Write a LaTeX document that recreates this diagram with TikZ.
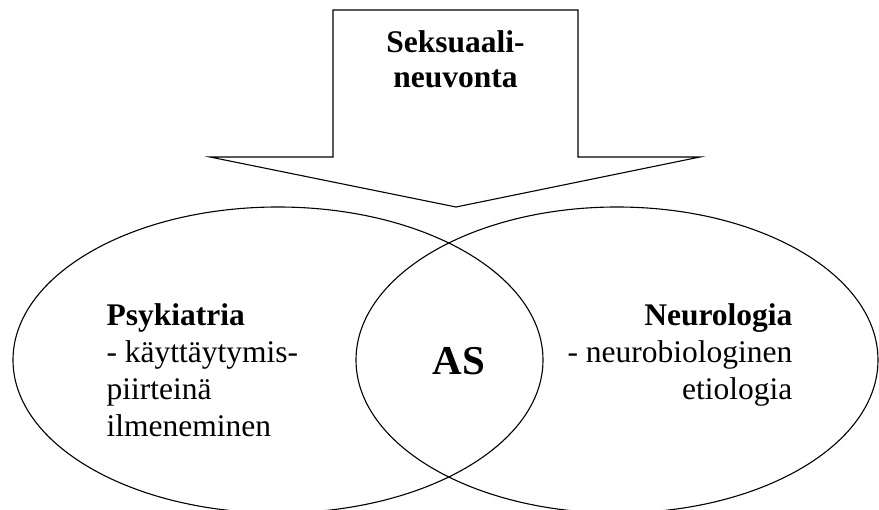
\documentclass[tikz,border=0pt]{standalone}
\usepackage{fontspec}
\setmainfont{Liberation Serif}
\usetikzlibrary{positioning}
\usetikzlibrary{shapes.geometric}

\begin{document}
\begin{tikzpicture}[x=1pt,y=-1pt,line width=1.1pt,
  oval/.style={draw,ellipse,inner sep=0pt,minimum height=306pt},
  txt/.style={inner sep=0pt,font=\fontsize{31.5}{37}\selectfont}]
\useasboundingbox (0,0) rectangle (879,510);
\node[oval,minimum width=530pt] (psy) at (278,360) {};
\node[oval,minimum width=522pt] (neu) at (617,360) {};
% block arrow
\draw[line join=miter] (333,157) -- (333,10) -- (578,10) -- (578,157)
  -- (700,157) -- (456,207) -- (210,157) -- cycle;
\node[txt,align=center,anchor=north,font=\fontsize{31.5}{35}\selectfont\bfseries] (sek) at (455.5,30.5) {Seksuaali-\\neuvonta};
\node[txt,align=left,anchor=north west] (psytxt) at (106,303.5) {\textbf{Psykiatria}\\- käyttäytymis-\\piirteinä\\ilmeneminen};
\node[txt,align=right,anchor=north east] (neutxt) at (793,303.5) {\textbf{Neurologia}\\- neurobiologinen\\etiologia};
\node[inner sep=0pt,anchor=base,font=\fontsize{41}{45}\selectfont\bfseries] (as) at (459,375) {AS};
\end{tikzpicture}
\end{document}
